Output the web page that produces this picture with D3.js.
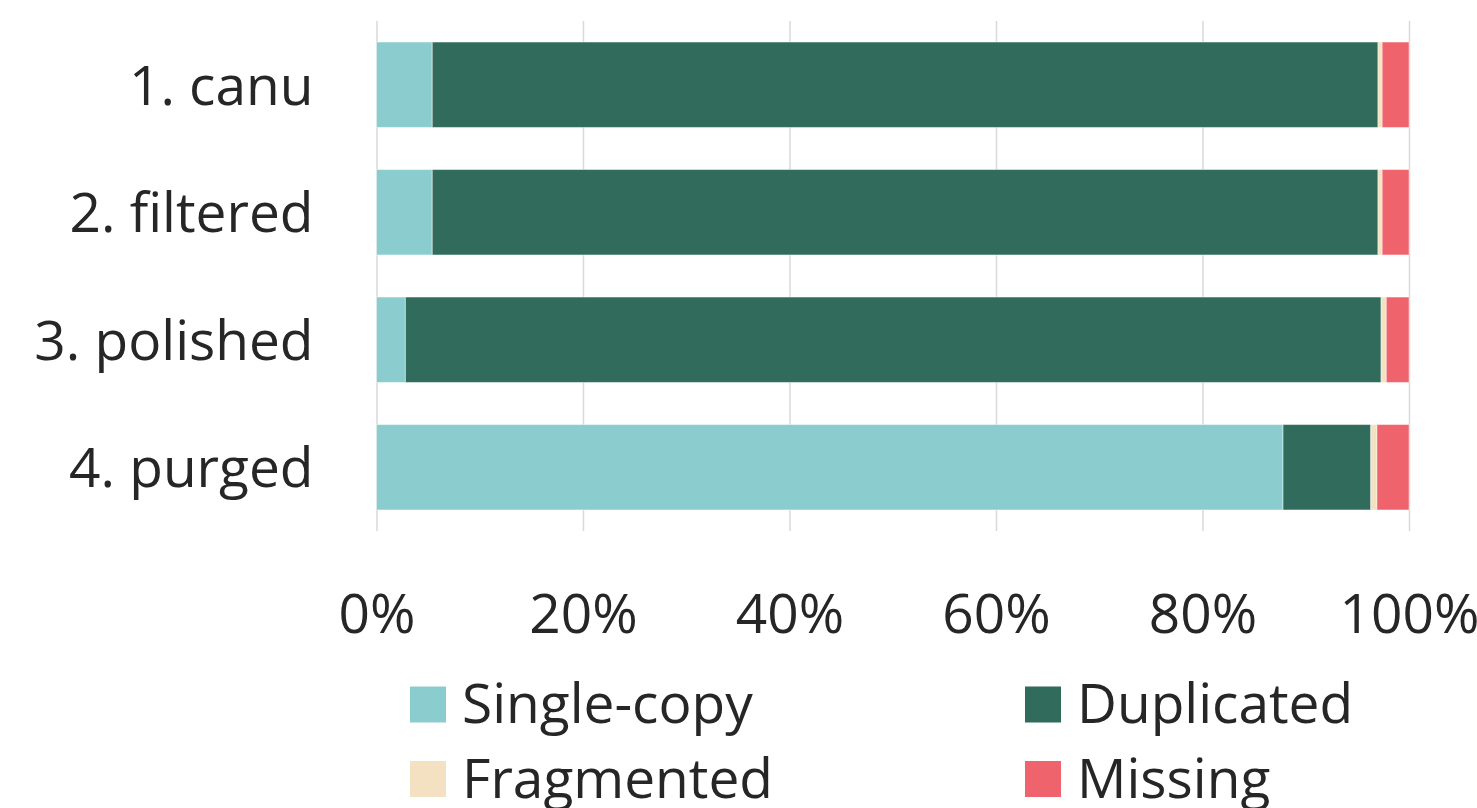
<!DOCTYPE html>
<html>
<head>
<meta charset="utf-8">
<script src="https://cdn.jsdelivr.net/npm/d3@7"></script>
<style>
  html, body { margin: 0; padding: 0; background: #ffffff; }
  svg { display: block; }
  text { font-family: "Open Sans", "Noto Sans", sans-serif; fill: #262626; }
</style>
</head>
<body>
<svg id="chart" width="1477" height="808"></svg>
<script>
// BUSCO completeness per assembly stage (percent of genes)
const categories = ["1. canu", "2. filtered", "3. polished", "4. purged"];
const singleCopy = [5.4, 5.4, 2.8, 87.8];
const duplicated = [91.6, 91.6, 94.5, 8.5];
const fragmented = [0.4, 0.4, 0.5, 0.6];
const missing    = [2.6, 2.6, 2.2, 3.1];

const seriesNames  = ["Single-copy", "Duplicated", "Fragmented", "Missing"];
const seriesColors = ["#8bcdce", "#316b5b", "#f4e1c1", "#ef636c"];
const tickValues   = [0, 20, 40, 60, 80, 100];

const rows = categories.map((c, i) => ({
  category: c,
  "Single-copy": singleCopy[i],
  "Duplicated": duplicated[i],
  "Fragmented": fragmented[i],
  "Missing": missing[i]
}));

const svg = d3.select("#chart");
const fontSize = 55;

const x = d3.scaleLinear().domain([0, 100]).range([376.5, 1409]);
const y = d3.scaleBand()
  .domain(categories)
  .range([21, 531])
  .paddingInner(0.33)
  .paddingOuter(0.165);

const color = d3.scaleOrdinal().domain(seriesNames).range(seriesColors);

// vertical gridlines
const grid = svg.append("g")
  .attr("transform", `translate(0,${y.range()[1]})`)
  .call(d3.axisBottom(x).tickValues(tickValues)
    .tickSize(-(y.range()[1] - y.range()[0]))
    .tickFormat(""));
grid.select(".domain").remove();
grid.selectAll(".tick line").attr("stroke", "#d9d9d9").attr("stroke-width", 1.5);

// stacked bars
const stack = d3.stack().keys(seriesNames);
const layers = stack(rows);

svg.append("g").selectAll("g")
  .data(layers)
  .join("g")
  .attr("fill", d => color(d.key))
  .selectAll("rect")
  .data(d => d)
  .join("rect")
  .attr("x", d => x(d[0]))
  .attr("width", d => x(d[1]) - x(d[0]))
  .attr("y", d => y(d.data.category))
  .attr("height", y.bandwidth())
  .attr("stroke", "#ffffff")
  .attr("stroke-opacity", 0.45)
  .attr("stroke-width", 1);

// x axis labels
const xAxis = svg.append("g")
  .attr("transform", `translate(0,${y.range()[1]})`)
  .call(d3.axisBottom(x).tickValues(tickValues).tickSize(0).tickFormat(d => d + "%"));
xAxis.select(".domain").remove();
xAxis.selectAll("text")
  .attr("y", 102)
  .attr("dy", 0)
  .style("font-size", fontSize + "px")
  .style("font-family", "'Open Sans', sans-serif")
  .attr("fill", "#262626");

// category labels
const yAxis = svg.append("g")
  .attr("transform", `translate(${x.range()[0]},0)`)
  .call(d3.axisLeft(y).tickSize(0).tickPadding(63));
yAxis.select(".domain").remove();
yAxis.selectAll("text")
  .attr("dy", "0.36em")
  .style("font-size", fontSize + "px")
  .style("font-family", "'Open Sans', sans-serif")
  .attr("fill", "#262626");

// legend, two columns by two rows
const legendCols = [410, 1025];
const legendRows = [686.5, 761];
const legend = svg.append("g").selectAll("g")
  .data(seriesNames)
  .join("g")
  .attr("transform", (d, i) => `translate(${legendCols[i % 2]},${legendRows[Math.floor(i / 2)]})`);

legend.append("rect")
  .attr("width", 36)
  .attr("height", 36)
  .attr("fill", d => color(d));

legend.append("text")
  .attr("x", 52)
  .attr("y", 36.5)
  .style("font-size", fontSize + "px")
  .text(d => d);
</script>
</body>
</html>
